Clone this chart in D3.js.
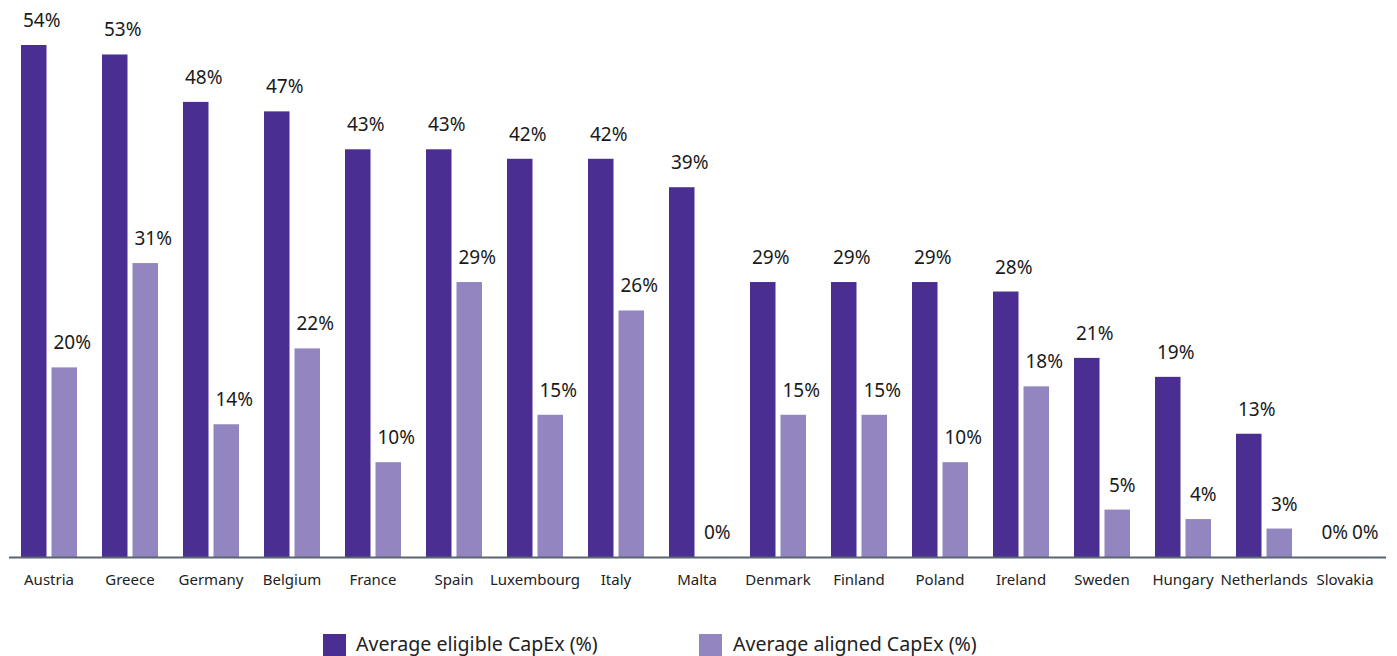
<!DOCTYPE html>
<html>
<head>
<meta charset="utf-8">
<script src="https://cdn.jsdelivr.net/npm/d3@7"></script>
<style>
  html, body { margin: 0; padding: 0; background: #fff; }
  svg { display: block; font-family: "Noto Sans", "DejaVu Sans", sans-serif; }
</style>
</head>
<body>
<svg id="chart" width="1397" height="656"></svg>
<script>
// EU Taxonomy CapEx by country (%)
const categories = ["Austria", "Greece", "Germany", "Belgium", "France", "Spain", "Luxembourg", "Italy", "Malta",
  "Denmark", "Finland", "Poland", "Ireland", "Sweden", "Hungary", "Netherlands", "Slovakia"];
const eligible = [54, 53, 48, 47, 43, 43, 42, 42, 39, 29, 29, 29, 28, 21, 19, 13, 0];
const aligned  = [20, 31, 14, 22, 10, 29, 15, 26, 0, 15, 15, 10, 18, 5, 4, 3, 0];
const seriesNames = ["Average eligible CapEx (%)", "Average aligned CapEx (%)"];
const seriesColors = ["#4b2e91", "#9285c0"];

const svg = d3.select("#chart");
const baseY = 557;

const x0 = d3.scaleBand().domain(categories).range([8.5, 1385.5]).paddingInner(0).paddingOuter(0);
const x1 = d3.scaleBand().domain([0, 1]).range([12.5, 68.5]).paddingInner(5 / 30.5);
const y = d3.scaleLinear().domain([0, 54]).range([baseY, 45]);

const rows = categories.map((c, i) => ({ cat: c, vals: [eligible[i], aligned[i]] }));

const groups = svg.append("g").selectAll("g")
  .data(rows).join("g")
  .attr("transform", d => `translate(${x0(d.cat)},0)`);

groups.selectAll("rect")
  .data(d => d.vals.map((v, k) => ({ v, k })))
  .join("rect")
  .attr("x", d => x1(d.k))
  .attr("width", x1.bandwidth())
  .attr("y", d => y(d.v))
  .attr("height", d => baseY - y(d.v))
  .attr("fill", d => seriesColors[d.k]);

groups.selectAll("text.val")
  .data(d => d.vals.map((v, k) => ({ v, k })))
  .join("text")
  .attr("class", "val")
  .attr("x", d => x1(d.k) + x1.bandwidth() / 2 + (String(d.v).length > 1 ? 8 : 5))
  .attr("y", d => y(d.v) - 18)
  .attr("text-anchor", "middle")
  .attr("font-size", 19)
  .attr("fill", "#1a1a1a")
  .text(d => d.v + "%");

// Category axis
const axis = svg.append("g")
  .attr("transform", `translate(0,${baseY})`)
  .call(d3.axisBottom(x0).tickSize(0).tickPadding(0));
axis.select(".domain").attr("stroke", "#5b6572").attr("stroke-width", 2);
axis.selectAll(".tick text")
  .attr("y", 28)
  .attr("dy", 0)
  .attr("font-size", 15)
  .attr("font-family", "\"Noto Sans\", sans-serif")
  .attr("fill", "#222");

// Legend
const legendX = [323, 699];
const legend = svg.append("g").selectAll("g")
  .data(seriesNames).join("g")
  .attr("transform", (d, i) => `translate(${legendX[i]},634)`);
legend.append("rect")
  .attr("width", 23).attr("height", 23)
  .attr("fill", (d, i) => seriesColors[i]);
legend.append("text")
  .attr("x", (d, i) => i === 0 ? 33 : 34)
  .attr("y", 16.5)
  .attr("font-size", 19.6)
  .attr("fill", "#222")
  .text(d => d);
</script>
</body>
</html>
